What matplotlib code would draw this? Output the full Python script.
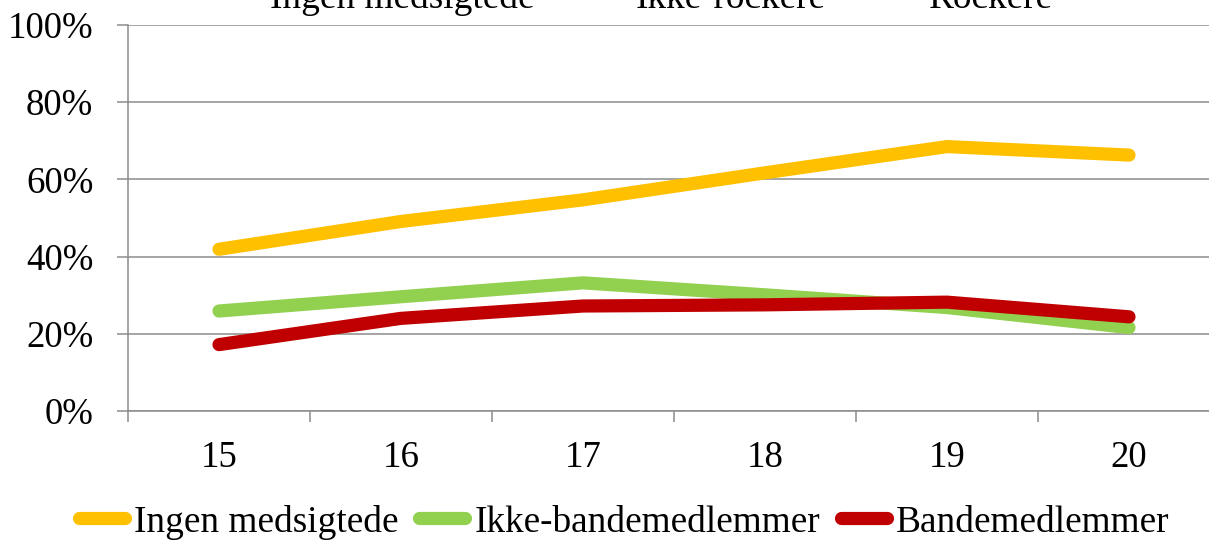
import matplotlib
matplotlib.use("Agg")
import matplotlib.pyplot as plt
from matplotlib.ticker import FixedLocator, FuncFormatter

plt.rcParams['font.family'] = ['Liberation Serif', 'DejaVu Serif']

ages = ["15", "16", "17", "18", "19", "20"]
ingen = [41.9, 49.1, 54.7, 61.7, 68.5, 66.3]
ikke_bande = [25.9, 29.6, 33.2, 30.1, 26.8, 21.6]
bande = [17.2, 24.0, 27.2, 27.5, 28.2, 24.4]
series_names = ["Ingen medsigtede", "Ikke-bandemedlemmer", "Bandemedlemmer"]
colors = ["#FFC000", "#92D050", "#C00000"]
top_labels = ["Ingen medsigtede", "Ikke-rockere", "Rockere"]
yticks = [0, 20, 40, 60, 80, 100]

W, H = 1209, 542
fig = plt.figure(figsize=(W / 100, H / 100), dpi=100)
ax = fig.add_axes([128 / W, 1 - 411 / H, 1092 / W, 386 / H])

fs = 26.5
fs_leg = 26.8
grid_c = "#8c8c8c"
x = [i + 0.5 for i in range(len(ages))]
for vals, name, c in zip([ingen, ikke_bande, bande], series_names, colors):
    ax.plot(x, vals, color=c, lw=9.5, solid_capstyle='round',
            solid_joinstyle='round', label=name, zorder=3)

ax.set_xlim(0, len(ages))
ax.set_ylim(0, 100)
ax.set_yticks(yticks)
ax.yaxis.set_major_formatter(FuncFormatter(lambda v, p: f"{int(v)}%"))
ax.xaxis.set_major_locator(FixedLocator(list(range(len(ages) + 1))))
ax.xaxis.set_minor_locator(FixedLocator(x))
ax.set_xticklabels([""] * (len(ages) + 1))
ax.set_xticklabels(ages, minor=True)
ax.tick_params(axis='x', which='major', length=8, width=1.1, color=grid_c)
ax.tick_params(axis='x', which='minor', length=0, pad=21, labelsize=fs)
ax.tick_params(axis='y', length=8, width=1.1, color=grid_c, pad=17, labelsize=fs)
ax.grid(axis='y', color=grid_c, lw=1.1, zorder=1)
for s in ['top', 'right']:
    ax.spines[s].set_visible(False)
for s in ['left', 'bottom']:
    ax.spines[s].set_color(grid_c)
    ax.spines[s].set_linewidth(1.1)

leg = fig.legend(loc='center left', bbox_to_anchor=(78.6 / W, 1 - 522 / H), ncol=3,
                 frameon=False, fontsize=fs_leg, borderpad=0, borderaxespad=0,
                 handlelength=1.24, handletextpad=0.25, columnspacing=0.55)

top_x = [270, 636, 929]
for tx, t in zip(top_x, top_labels):
    fig.text(tx / W, 1 - 8 / H, t, fontsize=fs_leg, ha='left', va='baseline')

fig.savefig("out.png", dpi=100)
